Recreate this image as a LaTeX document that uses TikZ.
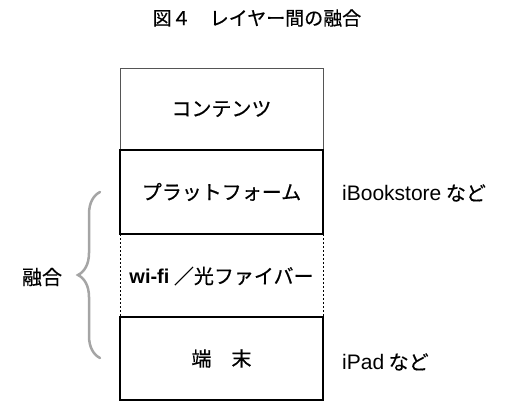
\documentclass[tikz,border=0pt]{standalone}
\usepackage{fontspec}
\setmainfont{Noto Sans CJK JP}[FakeBold=0.5]
\newfontfamily\lat{Liberation Sans}
\usepackage{tikz}
\usetikzlibrary{positioning}
\usetikzlibrary{decorations.pathreplacing}
\definecolor{bracegray}{HTML}{A5A5A5}
\definecolor{linegray}{HTML}{555555}
\tikzset{
	layer/.style={minimum width=203pt, inner sep=0pt, outer sep=0pt, font=\fontsize{20}{20}\selectfont},
	side/.style={anchor=west, inner sep=0pt, font=\fontsize{20}{20}\selectfont},
	wire/.style={line width=0.8pt, dash pattern=on 2pt off 2pt}
}

\begin{document}
\begin{tikzpicture}[x=1pt, y=-1pt]
		% Frame and title:
		\useasboundingbox (0,0) rectangle (515,419);
		\node[font=\fontsize{19}{19}\selectfont] (title) at (257,18) {図４　レイヤー間の融合};
		% Layers:
		\node[layer, draw=linegray, line width=0.9pt, minimum height=82pt] (cont) at (221.5,109) {コンテンツ};
		\node[layer, minimum height=83pt] (wifi) at (221.5,276) {{\lat\bfseries wi-fi} ／光ファイバー};
		\node[layer, draw, line width=1.4pt, minimum height=83pt] (term) at (221.5,358.5) {端　末};
		\node[layer, draw, line width=2.8pt, minimum height=84pt] (plat) at (221.5,192) {プラットフォーム};
		\draw[wire] (wifi.north west) -- (wifi.south west);
		\draw[wire] (wifi.north east) -- (wifi.south east);
		% Labels on the right:
		\node[side] (store) at (342,193) {{\lat\fontsize{21}{21}\selectfont iBookstore} など};
		\node[side] (pad) at (342,362) {{\lat\fontsize{21}{21}\selectfont iPad} など};
		% Brace:
		\coordinate (brb) at (100,358);
		\coordinate (brt) at (100,192);
		\draw[bracegray, line width=2.5pt, line cap=round, decorate, decoration={brace, amplitude=22pt}] (brb) -- (brt);
		\node[font=\fontsize{20}{20}\selectfont] (fuse) at (42,277) {融合};
	\end{tikzpicture}
\end{document}
